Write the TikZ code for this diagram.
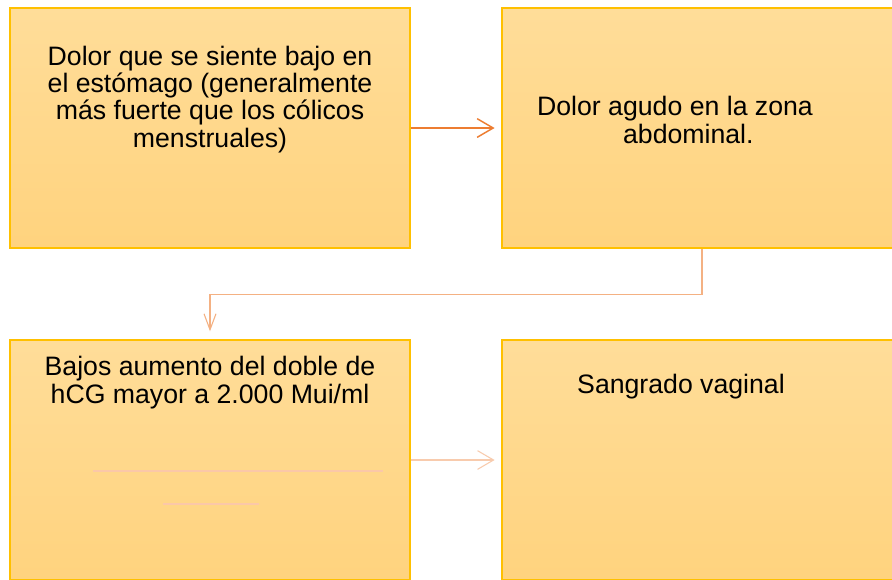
\documentclass[tikz,border=0pt]{standalone}
\usepackage{fontspec}
\setmainfont{Liberation Sans}
\usetikzlibrary{arrows.meta}

\definecolor{bordeOro}{RGB}{255,192,0}
\definecolor{cajaArriba}{RGB}{255,221,153}
\definecolor{cajaAbajo}{RGB}{255,211,126}
\definecolor{flechaFuerte}{RGB}{237,125,49}
\definecolor{flechaMedia}{RGB}{244,177,131}
\definecolor{flechaTenue}{RGB}{248,203,173}
\definecolor{rayaRosa}{RGB}{251,200,168}

\begin{document}
\begin{tikzpicture}[
    x=0.75pt, y=-0.75pt,
    every node/.style={align=center, font=\fontsize{20}{20.5}\selectfont},
    caja/.style={draw=bordeOro, line width=1.1pt, rectangle,
        top color=cajaArriba, bottom color=cajaAbajo,
        minimum width=300pt, minimum height=180pt, inner sep=0pt},
    flecha/.style={draw, -{Straight Barb[length=12pt, width=14pt]}},
    ]
\clip (0,0) rectangle (892,579);
\fill[white] (0,0) rectangle (892,579);
% cajas
\node[caja] (dolorBajo) at (210,128) {};
\node[caja] (dolorAgudo) at (702,128) {};
\node[caja] (hcg) at (210,460) {};
\node[caja] (sangrado) at (702,460) {};
% textos (base = ultima linea)
\node[anchor=base] (tBajo) at (210,147) {Dolor que se siente bajo en\\el estómago (generalmente\\más fuerte que los cólicos\\menstruales)};
\node[anchor=base] (tAgudo) at (675,143) {Dolor agudo en la zona\\\hspace*{20pt}abdominal.};
\node[anchor=base] (tHcg) at (210,403) {Bajos aumento del doble de\\hCG mayor a 2.000 Mui/ml};
\node[anchor=base] (tSangrado) at (681,393) {Sangrado vaginal};
% rayas tenues
\draw[rayaRosa, line width=1.2pt] (93,471) -- (383,471);
\draw[rayaRosa, line width=1.2pt] (163,504) -- (259,504);
% flechas
\draw[flecha, flechaFuerte, line width=1.1pt, shorten >=5pt] (dolorBajo.east) -- (dolorAgudo.west);
\draw[flecha, flechaMedia, line width=0.8pt, shorten >=6pt,
      -{Straight Barb[length=12pt, width=9pt]}] (dolorAgudo.south) -- ++(0,46) -| (hcg.north);
\draw[flecha, flechaTenue, line width=0.8pt, shorten >=5pt] (hcg.east) -- (sangrado.west);
\end{tikzpicture}
\end{document}
